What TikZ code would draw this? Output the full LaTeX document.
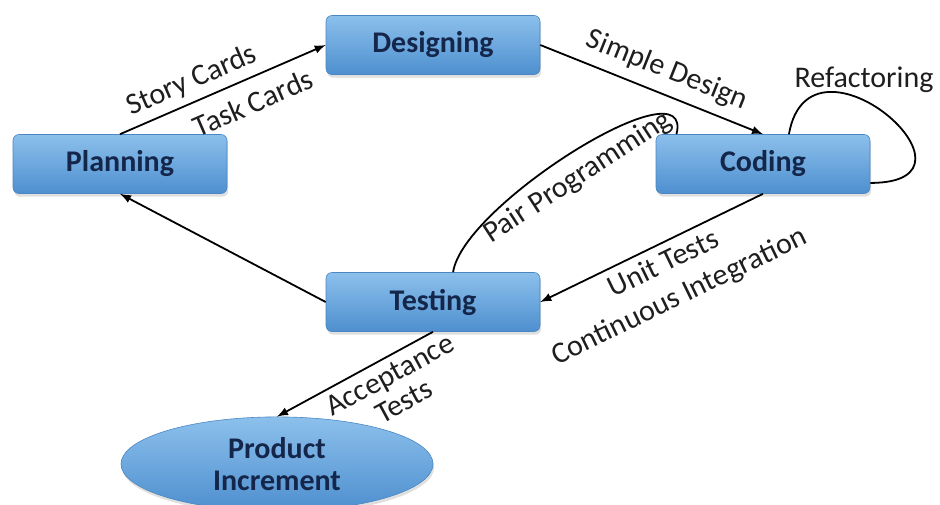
\documentclass[tikz,border=0pt]{standalone}
\usepackage{fontspec}
\setmainfont{Carlito}
\usetikzlibrary{shapes.geometric,shadows,arrows}

\definecolor{boxtop}{HTML}{8CC0EC}
\definecolor{boxbot}{HTML}{4E8FCF}
\definecolor{boxedge}{HTML}{4A86C2}
\definecolor{boxtext}{HTML}{14264A}
\definecolor{labeltext}{HTML}{1E1E1E}

\begin{document}
\begin{tikzpicture}[x=0.5pt, y=-0.5pt,
  phase/.style={rectangle, rounded corners=3pt, minimum width=107pt, minimum height=29.5pt,
    top color=boxtop, bottom color=boxbot, draw=boxedge, line width=0.3pt, text=boxtext,
    font=\fontsize{15}{16}\selectfont\bfseries,
    drop shadow={shadow xshift=0.6pt, shadow yshift=-1.6pt, opacity=0.25}},
  result/.style={phase, ellipse, sharp corners, minimum width=156pt, minimum height=46pt, align=center},
  lbl/.style={font=\fontsize{15}{18}\selectfont, text=labeltext}]
\useasboundingbox (0,0) rectangle (940,504);

\node[phase] (planning) at (120,164) {Planning};
\node[phase] (designing) at (433,45) {Designing};
\node[phase] (coding) at (763,164) {Coding};
\node[phase] (testing) at (433,302) {Testing};
\node[result] (product) at (277,464) {Product\\Increment};

\path[-latex, line width=0.9pt]
  (planning.north) edge node[lbl, sloped, above, pos=0.39] (story) {Story Cards}
                        node[lbl, sloped, below=3pt, pos=0.6] (task) {Task Cards} (designing.west)
  (designing.east) edge node[lbl, sloped, above=1.5pt, pos=0.53] (simple) {Simple Design} (coding.north)
  (coding.south) edge node[lbl, sloped, below, pos=0.485, align=center] (unit) {Unit Tests\\Continuous Integration} (testing.east)
  (testing.west) edge (planning.south)
  (testing.south) edge node[lbl, sloped, below, pos=0.33, align=center] (accept) {Acceptance\\[-3pt]Tests} (product.north)
;
% loops without tips
\draw[line width=0.9pt] (coding.49) .. controls +(80:60pt) and +(0:65pt) .. node[lbl, pos=0.4, above] (refactor) {Refactoring} (coding.-10);
\draw[line width=0.9pt] (testing.56) .. controls +(82:34pt) and +(76:38pt) .. node[lbl, sloped, below=2pt, pos=0.47] (pair) {Pair Programming} (coding.161);
\end{tikzpicture}
\end{document}
